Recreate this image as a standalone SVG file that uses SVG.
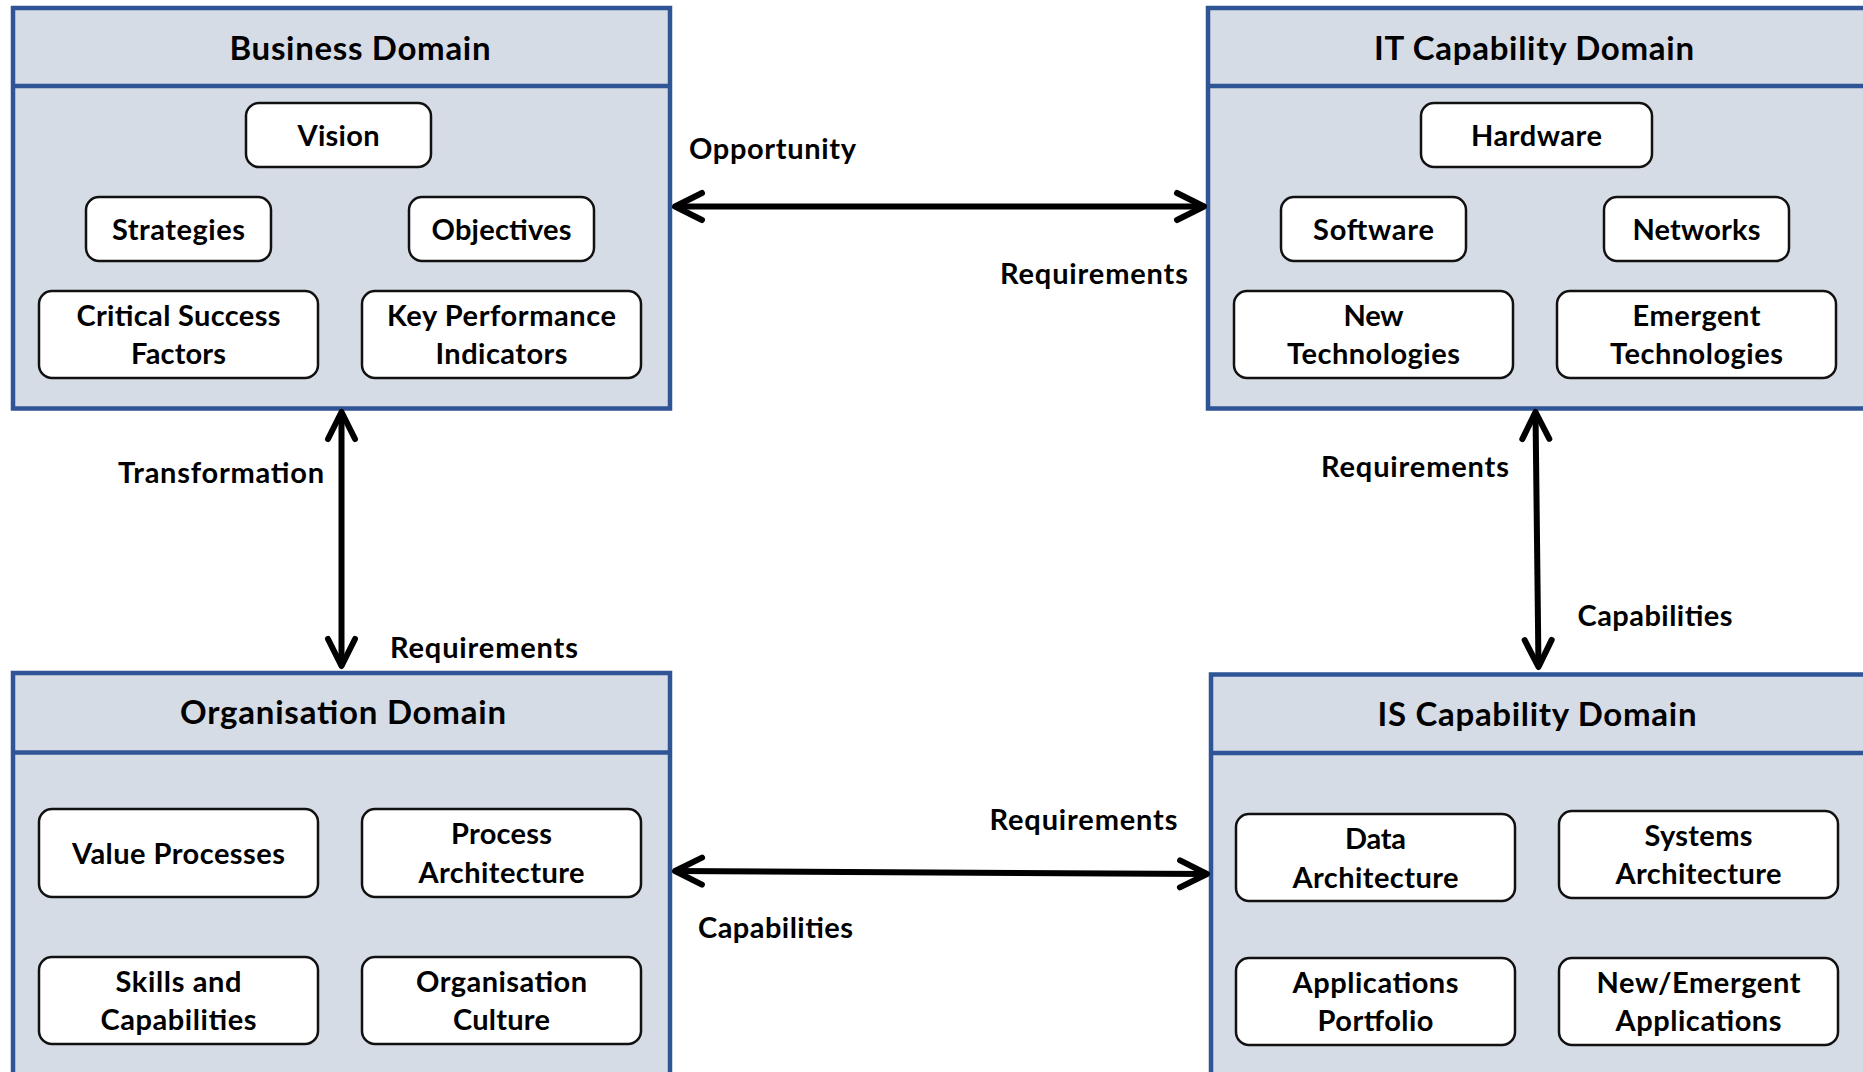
<svg xmlns="http://www.w3.org/2000/svg" width="1863" height="1072" viewBox="0 0 1863 1072">
  <defs>
    <style>
      .domain { fill: #D6DCE5; stroke: #2F5597; stroke-width: 4.5; }
      .divider { stroke: #2F5597; stroke-width: 4.5; }
      .item { fill: #FFFFFF; stroke: #111111; stroke-width: 2.5; }
      text { font-family: Lato, "Open Sans", "Liberation Sans", sans-serif; font-weight: bold; fill: #000000; text-anchor: middle; }
      .title { font-size: 33px; }
      .lbl { font-size: 29px; }
      .conn { fill: none; stroke: #000000; stroke-width: 6; marker-start: url(#chev); marker-end: url(#chev); }
    </style>
    <!-- open chevron head, reused at both ends of each two-way connector -->
    <marker id="chev" viewBox="-32 -18 36 36" refX="0" refY="0" markerWidth="36" markerHeight="36" markerUnits="userSpaceOnUse" orient="auto-start-reverse" overflow="visible">
      <path d="M-27,-13.5 L0,0 L-27,13.5" fill="none" stroke="#000000" stroke-width="6" stroke-linecap="round" stroke-linejoin="round"/>
    </marker>
  </defs>

  <!-- Business Domain -->
  <g id="business-domain">
    <rect class="domain" x="13" y="8" width="657" height="400.5"/>
    <line class="divider" x1="13" y1="86" x2="670" y2="86"/>
    <text class="title" x="360" y="60" textLength="261">Business Domain</text>
    <g id="vision">
      <rect class="item" x="246" y="103" width="185" height="64" rx="13"/>
      <text class="lbl" x="338.5" y="145.5" textLength="82">Vision</text>
    </g>
    <g id="strategies">
      <rect class="item" x="86" y="197" width="185" height="64" rx="13"/>
      <text class="lbl" x="178.5" y="239.5" textLength="133">Strategies</text>
    </g>
    <g id="objectives">
      <rect class="item" x="409" y="197" width="185" height="64" rx="13"/>
      <text class="lbl" x="501.5" y="239.5" textLength="140">Objectives</text>
    </g>
    <g id="critical-success-factors">
      <rect class="item" x="39" y="291" width="279" height="87" rx="13"/>
      <text class="lbl" x="178.5" y="325.5" textLength="204">Critical Success</text>
      <text class="lbl" x="178.5" y="364" textLength="95">Factors</text>
    </g>
    <g id="key-performance-indicators">
      <rect class="item" x="362" y="291" width="279" height="87" rx="13"/>
      <text class="lbl" x="501.5" y="325.5" textLength="229">Key Performance</text>
      <text class="lbl" x="501.5" y="364" textLength="132">Indicators</text>
    </g>
  </g>

  <!-- IT Capability Domain -->
  <g id="it-capability-domain">
    <rect class="domain" x="1208" y="8" width="662" height="400.5"/>
    <line class="divider" x1="1208" y1="86" x2="1870" y2="86"/>
    <text class="title" x="1534" y="60" textLength="320">IT Capability Domain</text>
    <g id="hardware">
      <rect class="item" x="1421" y="103" width="231" height="64" rx="13"/>
      <text class="lbl" x="1536.5" y="145.5" textLength="131">Hardware</text>
    </g>
    <g id="software">
      <rect class="item" x="1281" y="197" width="185" height="64" rx="13"/>
      <text class="lbl" x="1373.5" y="239.5" textLength="121">Software</text>
    </g>
    <g id="networks">
      <rect class="item" x="1604" y="197" width="185" height="64" rx="13"/>
      <text class="lbl" x="1696.5" y="239.5" textLength="128">Networks</text>
    </g>
    <g id="new-technologies">
      <rect class="item" x="1234" y="291" width="279" height="87" rx="13"/>
      <text class="lbl" x="1373.5" y="325.5" textLength="60">New</text>
      <text class="lbl" x="1373.5" y="364" textLength="173">Technologies</text>
    </g>
    <g id="emergent-technologies">
      <rect class="item" x="1557" y="291" width="279" height="87" rx="13"/>
      <text class="lbl" x="1696.5" y="325.5" textLength="128">Emergent</text>
      <text class="lbl" x="1696.5" y="364" textLength="173">Technologies</text>
    </g>
  </g>

  <!-- Organisation Domain -->
  <g id="organisation-domain">
    <rect class="domain" x="13" y="673" width="657" height="420"/>
    <line class="divider" x1="13" y1="752.5" x2="670" y2="752.5"/>
    <text class="title" x="343" y="724" textLength="326">Organisation Domain</text>
    <g id="value-processes">
      <rect class="item" x="39" y="809" width="279" height="88" rx="13"/>
      <text class="lbl" x="178.5" y="863.5" textLength="213">Value Processes</text>
    </g>
    <g id="process-architecture">
      <rect class="item" x="362" y="809" width="279" height="88" rx="13"/>
      <text class="lbl" x="501.5" y="844" textLength="101">Process</text>
      <text class="lbl" x="501.5" y="882.5" textLength="166">Architecture</text>
    </g>
    <g id="skills-and-capabilities">
      <rect class="item" x="39" y="957" width="279" height="87" rx="13"/>
      <text class="lbl" x="178.5" y="991.5" textLength="126">Skills and</text>
      <text class="lbl" x="178.5" y="1030" textLength="156">Capabilities</text>
    </g>
    <g id="organisation-culture">
      <rect class="item" x="362" y="957" width="279" height="87" rx="13"/>
      <text class="lbl" x="501.5" y="991.5" textLength="171">Organisation</text>
      <text class="lbl" x="501.5" y="1030" textLength="97">Culture</text>
    </g>
  </g>

  <!-- IS Capability Domain -->
  <g id="is-capability-domain">
    <rect class="domain" x="1211" y="674.5" width="662" height="420"/>
    <line class="divider" x1="1211" y1="753" x2="1873" y2="753"/>
    <text class="title" x="1537" y="725.5" textLength="319">IS Capability Domain</text>
    <g id="data-architecture">
      <rect class="item" x="1236" y="814" width="279" height="87" rx="13"/>
      <text class="lbl" x="1375.5" y="848.5" textLength="61">Data</text>
      <text class="lbl" x="1375.5" y="887.5" textLength="166">Architecture</text>
    </g>
    <g id="systems-architecture">
      <rect class="item" x="1559" y="811" width="279" height="87" rx="13"/>
      <text class="lbl" x="1698.5" y="845.5" textLength="108">Systems</text>
      <text class="lbl" x="1698.5" y="884" textLength="166">Architecture</text>
    </g>
    <g id="applications-portfolio">
      <rect class="item" x="1236" y="958" width="279" height="87" rx="13"/>
      <text class="lbl" x="1375.5" y="992.5" textLength="166">Applications</text>
      <text class="lbl" x="1375.5" y="1031" textLength="116">Portfolio</text>
    </g>
    <g id="new-emergent-applications">
      <rect class="item" x="1559" y="958" width="279" height="87" rx="13"/>
      <text class="lbl" x="1698.5" y="992.5" textLength="204">New/Emergent</text>
      <text class="lbl" x="1698.5" y="1031" textLength="166">Applications</text>
    </g>
  </g>

  <!-- two-way connectors between the domains, with their labels -->
  <g id="connectors">
    <path class="conn" d="M675,206.5 L1204,206.5"/>
    <path class="conn" d="M341.5,412 L341.5,666"/>
    <path class="conn" d="M1535.5,412 L1538.5,667"/>
    <path class="conn" d="M675,871 L1207,874"/>
    <text class="lbl" x="772.5" y="158.5" textLength="167">Opportunity</text>
    <text class="lbl" x="1094" y="284" textLength="188">Requirements</text>
    <text class="lbl" x="221" y="483" textLength="206">Transformation</text>
    <text class="lbl" x="484" y="658" textLength="188">Requirements</text>
    <text class="lbl" x="1415" y="477" textLength="188">Requirements</text>
    <text class="lbl" x="1655" y="626" textLength="155">Capabilities</text>
    <text class="lbl" x="1083.5" y="830" textLength="188">Requirements</text>
    <text class="lbl" x="775.5" y="938" textLength="155">Capabilities</text>
  </g>
</svg>
